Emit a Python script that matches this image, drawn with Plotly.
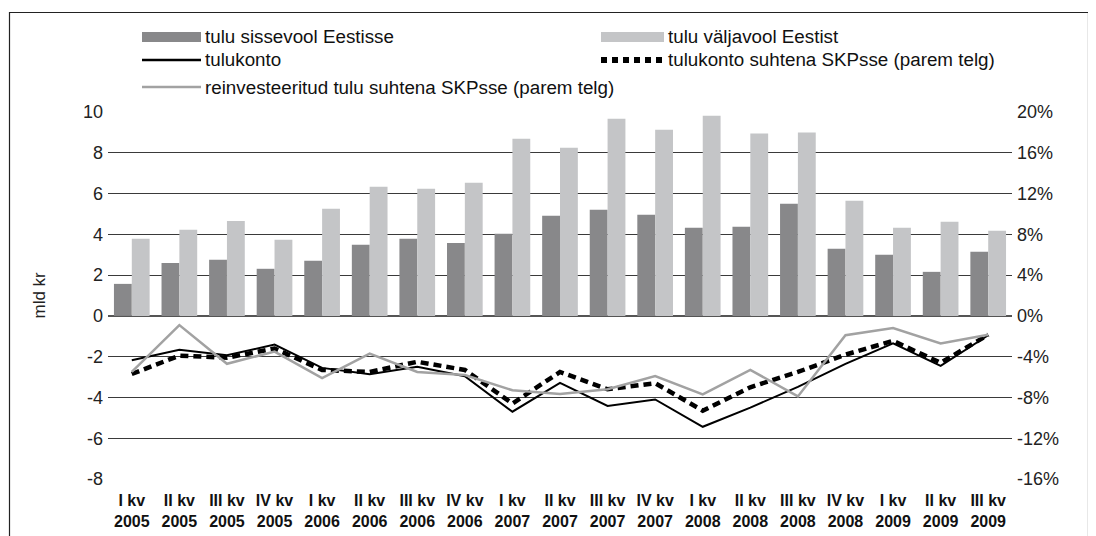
import plotly.graph_objects as go

categories = ["I kv<br>2005", "II kv<br>2005", "III kv<br>2005", "IV kv<br>2005",
              "I kv<br>2006", "II kv<br>2006", "III kv<br>2006", "IV kv<br>2006",
              "I kv<br>2007", "II kv<br>2007", "III kv<br>2007", "IV kv<br>2007",
              "I kv<br>2008", "II kv<br>2008", "III kv<br>2008", "IV kv<br>2008",
              "I kv<br>2009", "II kv<br>2009", "III kv<br>2009"]

inflow = [1.57, 2.60, 2.75, 2.31, 2.70, 3.49, 3.78, 3.58, 4.03, 4.91,
          5.20, 4.96, 4.32, 4.37, 5.50, 3.29, 3.00, 2.16, 3.14]
outflow = [3.78, 4.22, 4.66, 3.73, 5.25, 6.33, 6.24, 6.53, 8.69, 8.25,
           9.67, 9.13, 9.82, 8.94, 8.99, 5.65, 4.32, 4.62, 4.17]
income_account = [-2.18, -1.66, -1.93, -1.41, -2.55, -2.86, -2.50, -2.96, -4.70, -3.29,
                  -4.42, -4.10, -5.44, -4.50, -3.48, -2.35, -1.35, -2.45, -0.95]
income_pct_gdp = [-5.7, -3.9, -4.1, -3.2, -5.3, -5.5, -4.5, -5.3, -8.6, -5.5,
                  -7.2, -6.6, -9.3, -7.0, -5.5, -3.8, -2.45, -4.6, -1.85]
reinvested_pct_gdp = [-5.5, -0.9, -4.7, -3.5, -6.1, -3.7, -5.5, -5.8, -7.3, -7.65,
                      -7.2, -5.9, -7.7, -5.3, -7.9, -1.9, -1.2, -2.7, -1.85]

left_ticks = [-8, -6, -4, -2, 0, 2, 4, 6, 8, 10]
left_ticktext = ["-8", "-6", "-4", "-2", "0", "2", "4", "6", "8", "10"]
right_ticks = [-16, -12, -8, -4, 0, 4, 8, 12, 16, 20]
right_ticktext = ["-16%", "-12%", "-8%", "-4%", "0%", "4%", "8%", "12%", "16%", "20%"]

names = ["tulu sissevool Eestisse", "tulu väljavool Eestist", "tulukonto",
         "tulukonto suhtena SKPsse (parem telg)",
         "reinvesteeritud tulu suhtena SKPsse (parem telg)"]

FONT = "Liberation Sans, Arial, sans-serif"
DARK = "#88888a"
LIGHT = "#c4c5c7"
GRAYLINE = "#a2a2a2"

fig = go.Figure()
fig.add_trace(go.Bar(x=categories, y=inflow, name=names[0],
                     marker=dict(color=DARK, line=dict(width=0))))
fig.add_trace(go.Bar(x=categories, y=outflow, name=names[1],
                     marker=dict(color=LIGHT, line=dict(width=0))))
fig.add_trace(go.Scatter(x=categories, y=income_account, name=names[2],
                         mode="lines", line=dict(color="#000000", width=2)))
fig.add_trace(go.Scatter(x=categories, y=income_pct_gdp, name=names[3],
                         mode="lines", yaxis="y2",
                         line=dict(color="#000000", width=4.5, dash="8px,5px")))
fig.add_trace(go.Scatter(x=categories, y=reinvested_pct_gdp, name=names[4],
                         mode="lines", yaxis="y2", line=dict(color=GRAYLINE, width=2.5)))

# page coordinates: the page body adds an 8px offset
x0 = 108
pw = 904
ph = 367
def px(xp):
    return (xp - x0) / pw
def py(yp):
    return (479 - yp) / ph

shapes = [dict(type="rect", xref="paper", yref="paper",
               x0=px(9.5), x1=px(1088.5), y0=py(545), y1=py(12.5),
               line=dict(color="#222222", width=1.2), fillcolor="rgba(0,0,0,0)",
               layer="below")]
annotations = [dict(text="mld kr", xref="paper", yref="paper", x=px(39), y=0.5,
                    showarrow=False, textangle=-90, font=dict(size=17, color="#222222"),
                    xanchor="center", yanchor="middle")]

# manual legend (3 rows, 2 columns)
legend_items = [
    (0, 142, 201, 37, "bar", DARK),
    (1, 601, 664, 37, "bar", LIGHT),
    (2, 142, 201, 60, "line", "#000000"),
    (3, 601, 664, 60, "dash", "#000000"),
    (4, 142, 201, 87, "line", GRAYLINE),
]
for idx, xa, xb, yc, kind, col in legend_items:
    if kind == "bar":
        shapes.append(dict(type="rect", xref="paper", yref="paper",
                           x0=px(xa), x1=px(xb), y0=py(yc + 5), y1=py(yc - 5),
                           line=dict(width=0), fillcolor=col))
    elif kind == "line":
        shapes.append(dict(type="line", xref="paper", yref="paper",
                           x0=px(xa), x1=px(xb), y0=py(yc), y1=py(yc),
                           line=dict(color=col, width=2.5)))
    else:
        shapes.append(dict(type="line", xref="paper", yref="paper",
                           x0=px(xa), x1=px(xb), y0=py(yc), y1=py(yc),
                           line=dict(color=col, width=6, dash="6px,5px")))
    annotations.append(dict(text=names[idx], xref="paper", yref="paper",
                            x=px(xb + 2), y=py(yc), xanchor="left", yanchor="middle",
                            showarrow=False,
                            font=dict(family=FONT, size=18.8, color="#111111")))

fig.update_layout(
    width=1088, height=528,
    margin=dict(l=100, r=84, t=104, b=57, autoexpand=False),
    paper_bgcolor="white", plot_bgcolor="white",
    font=dict(family=FONT, size=18, color="#222222"),
    barmode="group", bargap=0.25, bargroupgap=0,
    showlegend=False,
    xaxis=dict(showgrid=False, ticks="", showline=False, zeroline=False,
               automargin=False, ticklabelstandoff=10,
               tickfont=dict(family=FONT, size=16, color="#111111", weight="bold"),
               tickangle=0),
    yaxis=dict(range=[-8, 10], tickvals=left_ticks, ticktext=left_ticktext,
               showgrid=True, gridcolor="#3a3a3a", gridwidth=1,
               zeroline=True, zerolinecolor="#555555", zerolinewidth=1.5,
               showline=False, ticks="", ticklabelstandoff=4, automargin=False,
               tickfont=dict(size=18, color="#222222")),
    yaxis2=dict(range=[-16, 20], tickvals=right_ticks, ticktext=right_ticktext,
                overlaying="y", side="right", showgrid=False, zeroline=False,
                showline=False, ticks="", ticklabelstandoff=4, automargin=False,
                tickfont=dict(size=18, color="#222222")),
    shapes=shapes,
    annotations=annotations,
)

fig.write_html("out.html")
